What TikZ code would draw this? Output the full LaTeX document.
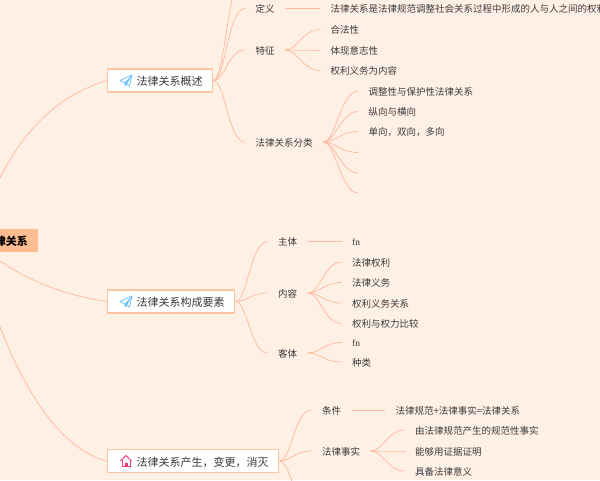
\documentclass[tikz,border=0pt]{standalone}
\usepackage{fontspec}
\setmainfont{Noto Sans CJK SC}
\newfontfamily\latinfont{Liberation Serif}
\definecolor{paper}{HTML}{FFF0E6}
\definecolor{linkline}{HTML}{FFB99C}
\definecolor{boxline}{HTML}{FFC4A0}
\definecolor{rootfill}{HTML}{FFBC8F}
\definecolor{inktext}{HTML}{3A3A3A}
\tikzset{
  topic/.style={draw=boxline,fill=white,line width=1.4pt,anchor=west,text=inktext,
    font=\fontsize{11}{13}\selectfont,inner xsep=10pt,inner ysep=0pt,minimum height=23pt,
    text height=11.2pt,text depth=.8pt},
  item/.style={anchor=west,text=inktext,font=\fontsize{9.5}{11}\selectfont,inner xsep=10.5pt,inner ysep=2pt,
    text height=9.5pt,text depth=.9pt},
  link/.style={draw=linkline,line width=.75pt,
    to path={.. controls +(12,0) and +(-17,0) .. (\tikztotarget)}},
  planeicon/.pic={
    \draw[draw=blue!40!cyan!60,line width=.8pt,line join=round] (12,0) -- (0,5.5) -- (4.5,8) -- (9.5,11) -- cycle;
    \fill[blue!40!cyan!60] (12,0) -- (4.5,8) -- (4.5,11.5) -- (7,9.2) -- cycle;
  },
  homeicon/.pic={
    \draw[draw=red!70!magenta!80,line width=.9pt,line join=round] (.5,6) -- (6,.5) -- (11.5,6);
    \draw[draw=red!70!magenta!80,line width=.9pt] (2,5) -- (2,11.5) -- (10,11.5) -- (10,5);
    \fill[red!70!magenta!80] (4.5,8) rectangle (7.5,12);
  }
}
\begin{document}
\begin{tikzpicture}[x=1pt,y=-1pt]
   \useasboundingbox (0,0) rectangle (600,480);
   \fill[paper] (0,0) rectangle (600,480);
   \clip (0,0) rectangle (600,480);
   \coordinate (hub) at (-25,240);
   % first branch
   \node (gaishu) [topic] at (107,80.5) {\hspace*{19pt}法律关系概述};
   \coordinate (shangbian) at (247,-40);
   \node (dingyi) [item] at (245,8.5) {定义};
   \node (tezheng) [item] at (245,50) {特征};
   \node (fenlei) [item] at (245,142) {法律关系分类};
   \node (dingyitext) [item] at (320,8.5) {法律关系是法律规范调整社会关系过程中形成的人与人之间的权利};
   \node (hefa) [item] at (320,29.5) {合法性};
   \node (yizhi) [item] at (320,50) {体现意志性};
   \node (quanli) [item] at (320,70.5) {权利义务为内容};
   \node (tiaozheng) [item] at (358,91) {调整性与保护性法律关系};
   \node (zongxiang) [item] at (358,111.5) {纵向与横向};
   \node (danxiang) [item] at (358,131.5) {单向，双向，多向};
   \coordinate (kong1) at (358,152.5);
   \coordinate (kong2) at (358,173);
   \coordinate (kong3) at (358,193);
   % second branch
   \node (yaosu) [topic] at (107,301.5) {\hspace*{19pt}法律关系构成要素};
   \node (zhuti) [item] at (267.5,241.5) {主体};
   \node (neirong) [item] at (267.5,293) {内容};
   \node (keti) [item] at (267.5,353) {客体};
   \node (zhutifn) [item] at (341.5,241.5) {\latinfont fn};
   \node (quan) [item] at (341.5,262) {法律权利};
   \node (yiwu) [item] at (341.5,282.5) {法律义务};
   \node (guanxi) [item] at (341.5,303) {权利义务关系};
   \node (bijiao) [item] at (341.5,323.5) {权利与权力比较};
   \node (ketifn) [item] at (341.5,342.5) {\latinfont fn};
   \node (zhonglei) [item] at (341.5,362) {种类};
   % third branch
   \node (bianhua) [topic] at (107,461) {\hspace*{19pt}法律关系产生，变更，消灭};
   \node (tiaojian) [item] at (311.5,410) {条件};
   \node (shishi) [item] at (311.5,451) {法律事实};
   \coordinate (xiabian) at (313,515);
   \node (gongshi) [item] at (385,410) {法律规范+法律事实=法律关系};
   \node (guifan) [item] at (404.5,430) {由法律规范产生的规范性事实};
   \node (zhengming) [item] at (404.5,451) {能够用证据证明};
   \node (yiyi) [item] at (404.5,471) {具备法律意义};
   % connectors
   \draw[link] (hub) .. controls (10,130) and (60,95) .. (gaishu.west);
   \draw[link] (hub) .. controls (10,275) and (60,295) .. (yaosu.west);
   \draw[link] (hub) .. controls (-8,325) and (40,445) .. (bianhua.west);
   \draw[link] (gaishu.east) to (shangbian);
   \draw[link] (gaishu.east) to (dingyi.west);
   \draw[link] (gaishu.east) to (tezheng.west);
   \draw[link] (gaishu.east) to (fenlei.west);
   \draw[link] (dingyi.east) -- (dingyitext.west);
   \draw[link] (tezheng.east) to (hefa.west);
   \draw[link] (tezheng.east) to (yizhi.west);
   \draw[link] (tezheng.east) to (quanli.west);
   \draw[link] (fenlei.east) to (tiaozheng.west);
   \draw[link] (fenlei.east) to (zongxiang.west);
   \draw[link] (fenlei.east) to (danxiang.west);
   \draw[link] (fenlei.east) to (kong1);
   \draw[link] (fenlei.east) to (kong2);
   \draw[link] (fenlei.east) to (kong3);
   \draw[link] (yaosu.east) to (zhuti.west);
   \draw[link] (yaosu.east) to (neirong.west);
   \draw[link] (yaosu.east) to (keti.west);
   \draw[link] (zhuti.east) -- (zhutifn.west);
   \draw[link] (neirong.east) to (quan.west);
   \draw[link] (neirong.east) to (yiwu.west);
   \draw[link] (neirong.east) to (guanxi.west);
   \draw[link] (neirong.east) to (bijiao.west);
   \draw[link] (keti.east) to (ketifn.west);
   \draw[link] (keti.east) to (zhonglei.west);
   \draw[link] (bianhua.east) to (tiaojian.west);
   \draw[link] (bianhua.east) to (shishi.west);
   \draw[link] (bianhua.east) to (xiabian);
   \draw[link] (tiaojian.east) -- (gongshi.west);
   \draw[link] (shishi.east) to (guifan.west);
   \draw[link] (shishi.east) to (zhengming.west);
   \draw[link] (shishi.east) to (yiyi.west);
   % root goes over its connectors
   \node (root) [fill=rootfill,anchor=east,inner xsep=10pt,inner ysep=0pt,minimum height=23pt,text height=11.2pt,text depth=.8pt,font=\fontsize{11}{13}\selectfont\bfseries] at (38,240) {法律关系};
   \pic at (120,75) {planeicon};
   \pic at (120,296) {planeicon};
   \pic at (120,455) {homeicon};
\end{tikzpicture}
\end{document}
